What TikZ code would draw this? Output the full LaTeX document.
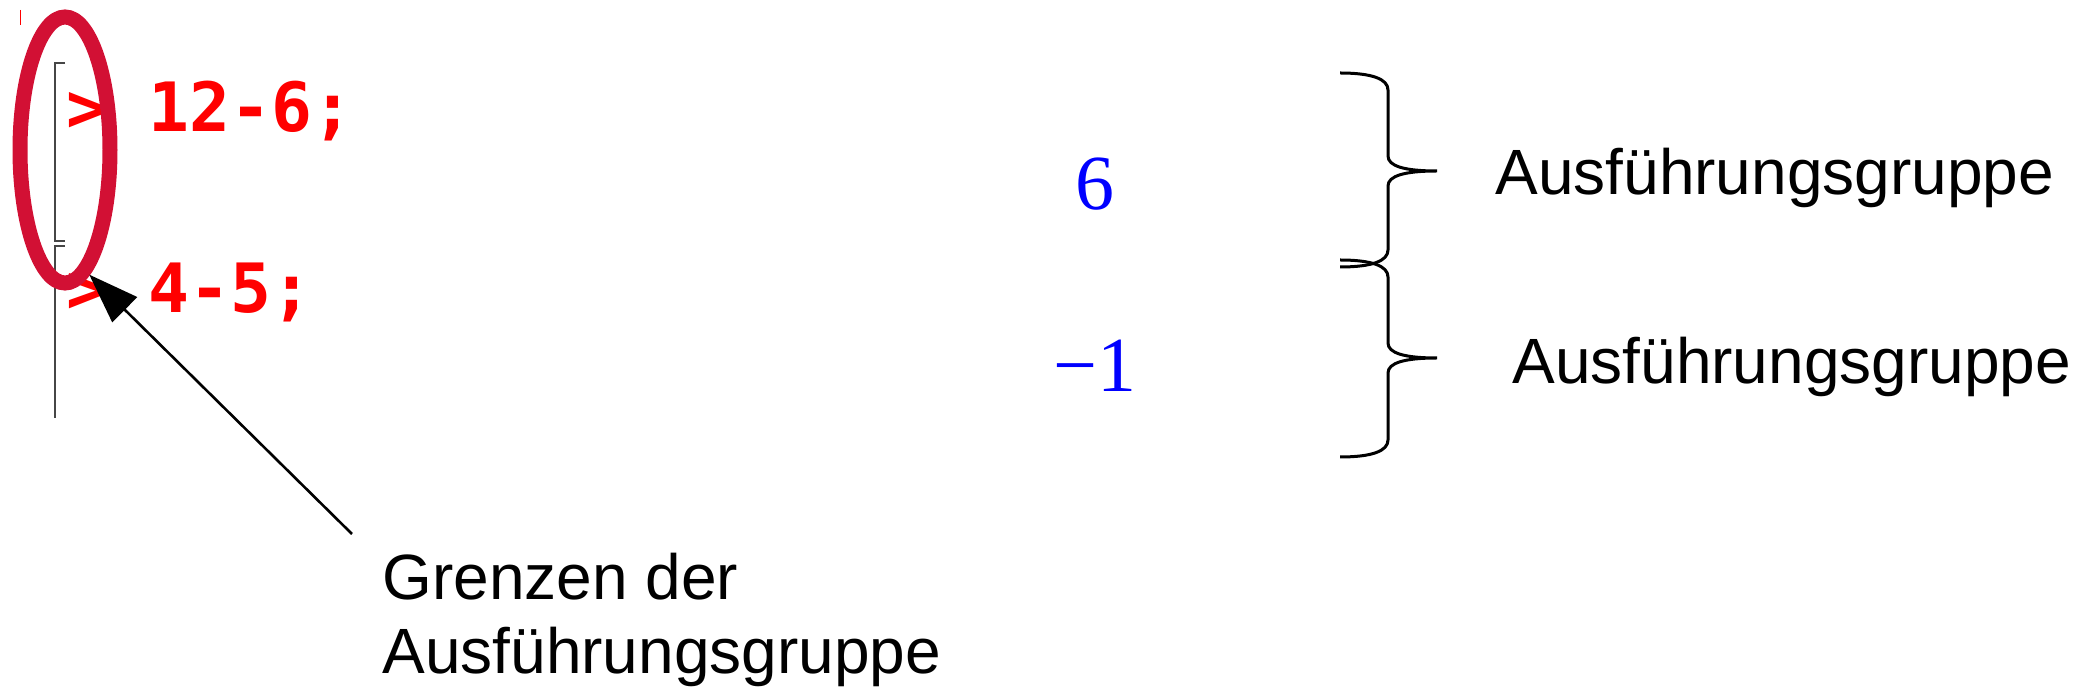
\documentclass[tikz,border=0pt]{standalone}
\usepackage{fontspec}
\setmainfont{Liberation Sans}
\newfontfamily\codefont{DejaVu Sans Mono}
\newfontfamily\resfont{Liberation Serif}
\usetikzlibrary{arrows.meta,shapes.geometric}
\definecolor{maplered}{RGB}{255,0,0}
\definecolor{ringred}{RGB}{210,16,52}
\definecolor{mapleblue}{RGB}{0,0,255}
\definecolor{bracketgray}{RGB}{70,70,70}

\begin{document}
\begin{tikzpicture}[x=0.5pt,y=-0.5pt]
	\tikzset{code/.style={anchor=base west,inner sep=0,text=maplered,font=\codefont\bfseries\fontsize{34}{40}\selectfont}}
	\tikzset{result/.style={anchor=base,inner sep=0,text=mapleblue,font=\resfont\fontsize{39}{44}\selectfont}}
	\tikzset{annot/.style={anchor=base west,inner sep=0,font=\fontsize{32}{37}\selectfont}}
	\tikzset{ring/.style={ellipse,draw=ringred,line width=7.5pt,minimum width=45pt,minimum height=133pt,inner sep=0}}
	\tikzset{cellbracket/.style={draw=bracketgray,line width=0.75pt}}
	\tikzset{groupbrace/.style={draw=black,line width=1.5pt}}
	\tikzset{pointer/.style={-{Triangle[length=25pt,width=17.5pt]},line width=1.3pt}}

	\useasboundingbox (0,0) rectangle (2078,694);

	% worksheet input
	\draw[maplered,line width=0.5pt] (20,10) -- (20,25);
	\draw[cellbracket] (65,63) -- (55,63) -- (55,241) -- (65,241);
	\draw[cellbracket] (65,246) -- (55,246) -- (55,418);
	\node[code] (in1) at (66,132) {> 12-6;};
	\node[code] (in2) at (66,313) {> 4-5;};

	% output
	\node[result] (out1) at (1095,210) {6};
	\node[result] (out2) at (1095,392) {−1};

	% braces
	\draw[groupbrace] (1340,73) .. controls (1372,73) and (1388,79) .. (1388,90)
		-- (1388,156) .. controls (1388,166) and (1404,171) .. (1437,171)
		.. controls (1404,171) and (1388,176) .. (1388,186)
		-- (1388,250) .. controls (1388,261) and (1372,267) .. (1340,267);
	\draw[groupbrace] (1340,260) .. controls (1372,260) and (1388,266) .. (1388,277)
		-- (1388,343) .. controls (1388,353) and (1404,358) .. (1437,358)
		.. controls (1404,358) and (1388,363) .. (1388,373)
		-- (1388,440) .. controls (1388,451) and (1372,457) .. (1340,457);
	\node[annot] (grp1) at (1495,195) {Ausführungsgruppe};
	\node[annot] (grp2) at (1512,384) {Ausführungsgruppe};

	% marked boundary
	\node[ring] (ring) at (65,150) {};
	\node[annot,align=left] (grenzen) at (382,674) {Grenzen der\\Ausführungsgruppe};
	\coordinate (tail) at (352,534);
	\draw[pointer] (tail) -- (ring.-79);
\end{tikzpicture}
\end{document}
